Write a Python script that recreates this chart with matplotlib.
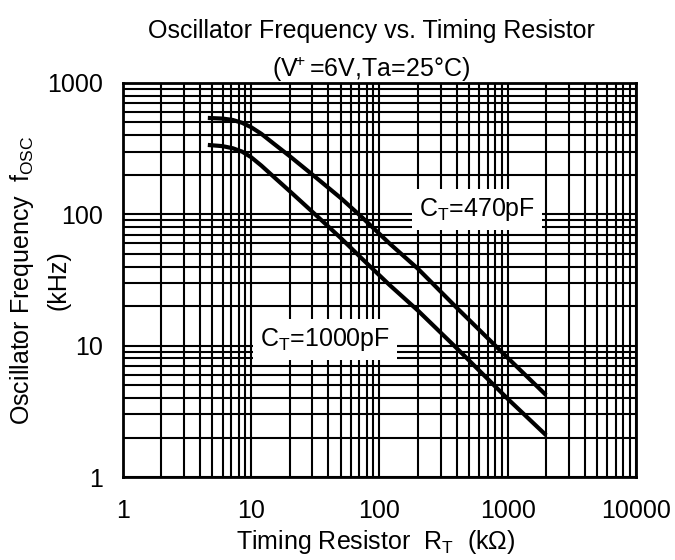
import matplotlib
matplotlib.use('Agg')
import matplotlib.pyplot as plt
from matplotlib.ticker import LogLocator, NullFormatter, FixedLocator

plt.rcParams['font.family'] = ['Liberation Sans', 'DejaVu Sans']
plt.rcParams['mathtext.default'] = 'regular'

# timing resistor (kOhm) and oscillator frequency (kHz)
rt = [4.6, 6, 7.2, 8.5, 10, 12, 15, 20, 25, 33, 50, 74, 120, 200, 400, 1000, 2000]
f_470p = [541, 535, 522, 497, 460, 410, 345, 277, 232, 186, 133, 94, 60, 38.5, 19.5, 8.1, 4.2]
f_1000p = [337, 330, 318, 300, 272, 235, 193, 150, 123, 96, 66, 45.5, 29, 18.5, 9.6, 3.95, 2.08]

xticks = [1, 10, 100, 1000, 10000]
yticks = [1, 10, 100, 1000]

fs = 18

fig = plt.figure(figsize=(6.75, 5.6), dpi=100)
ax = fig.add_axes([0.182, 0.148, 0.760, 0.704])

ax.set_xscale('log')
ax.set_yscale('log')
ax.set_xlim(1, 10000)
ax.set_ylim(1, 1000)

ax.plot(rt, f_470p, color='black', lw=3.0, solid_capstyle='butt', zorder=5)
ax.plot(rt, f_1000p, color='black', lw=3.0, solid_capstyle='butt', zorder=5)

ax.xaxis.set_major_locator(FixedLocator(xticks))
ax.yaxis.set_major_locator(FixedLocator(yticks))
ax.set_xticklabels([str(v) for v in xticks])
ax.set_yticklabels([str(v) for v in yticks])
ax.xaxis.set_minor_locator(LogLocator(base=10, subs=range(2, 10)))
ax.yaxis.set_minor_locator(LogLocator(base=10, subs=range(2, 10)))
ax.xaxis.set_minor_formatter(NullFormatter())
ax.yaxis.set_minor_formatter(NullFormatter())
ax.tick_params(which='both', length=0, labelsize=fs)
ax.tick_params(axis='x', pad=16)
ax.tick_params(axis='y', pad=14)

ax.grid(which='both', color='black', lw=1.5)
ax.set_axisbelow(True)
for s in ax.spines.values():
    s.set_linewidth(2)

box = dict(facecolor='white', edgecolor='none', pad=5)
ax.text(580, 108, r'C$_T$=470pF', fontsize=fs, ha='center', va='center',
        bbox=box, zorder=4)
ax.text(38, 11.2, r'C$_T$=1000pF', fontsize=fs, ha='center', va='center',
        bbox=box, zorder=4)

fig.text(0.55, 0.945, 'Oscillator Frequency vs. Timing Resistor', fontsize=fs,
         ha='center', va='center')
fig.text(0.55, 0.877, r'(V$^{\!\!+}$=6V,Ta=25°C)', fontsize=fs,
         ha='center', va='center')
fig.text(0.556, 0.032, r'Timing Resistor  R$_T$  (kΩ)', fontsize=fs,
         ha='center', va='center')
fig.text(0.032, 0.5, r'Oscillator Frequency  f$_{OSC}$', fontsize=fs,
         ha='center', va='center', rotation=90)
fig.text(0.087, 0.5, '(kHz)', fontsize=fs, ha='center', va='center', rotation=90)

fig.savefig('out.png', dpi=100)
